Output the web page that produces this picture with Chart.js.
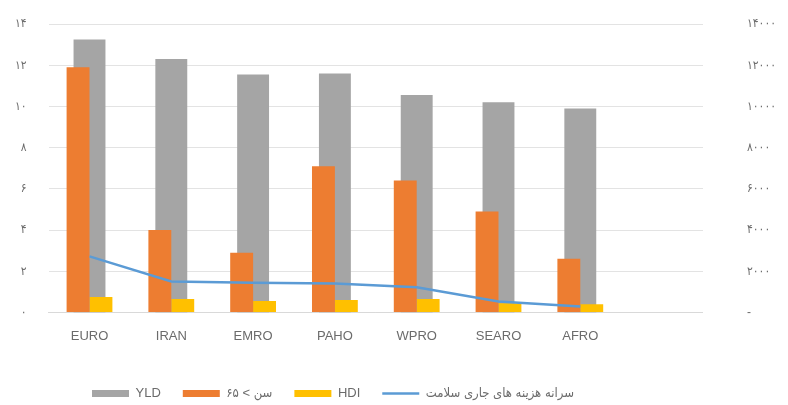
<!DOCTYPE html>
<html>
<head>
<meta charset="utf-8">
<script src="https://cdn.jsdelivr.net/npm/chart.js@4"></script>
<style>
  html, body { margin: 0; padding: 0; background: #fff; }
  #wrap { width: 788px; height: 405px; }
</style>
</head>
<body>
<div id="wrap"><canvas id="myChart" width="788" height="405"></canvas></div>
<script>
const regions = ['EURO', 'IRAN', 'EMRO', 'PAHO', 'WPRO', 'SEARO', 'AFRO', ''];
const yld = [13250, 12300, 11550, 11600, 10550, 10200, 9900];
const over65 = [11.9, 4.0, 2.9, 7.1, 6.4, 4.9, 2.6];
const hdi = [0.75, 0.65, 0.55, 0.6, 0.65, 0.45, 0.4];
const healthSpend = [2720, 1500, 1440, 1400, 1220, 530, 290];
const leftTicks = ['۰', '۲', '۴', '۶', '۸', '۱۰', '۱۲', '۱۴'];
const rightTicks = ['-', '۲۰۰۰', '۴۰۰۰', '۶۰۰۰', '۸۰۰۰', '۱۰۰۰۰', '۱۲۰۰۰', '۱۴۰۰۰'];

Chart.defaults.font.family = "'Liberation Sans', 'DejaVu Sans Condensed', 'DejaVu Sans', sans-serif";
Chart.defaults.color = '#6b6b6b';

// move the legend row left and a bit down, like the original
const legendShift = {
  id: 'legendShift',
  afterLayout(chart) {
    chart.legend.left += 58;
    chart.legend.top += 5;
    chart.legend.bottom += 5;
  }
};

new Chart(document.getElementById('myChart'), {
  type: 'bar',
  data: {
    labels: regions,
    datasets: [
      {
        label: 'YLD',
        data: yld,
        yAxisID: 'y1',
        backgroundColor: '#a5a5a5',
        grouped: false,
        categoryPercentage: 0.39,
        barPercentage: 1,
        order: 3
      },
      {
        label: 'سن > ۶۵',
        data: over65,
        yAxisID: 'y',
        backgroundColor: '#ed7d31',
        categoryPercentage: 0.56,
        barPercentage: 1,
        order: 2
      },
      {
        label: 'HDI',
        data: hdi,
        yAxisID: 'y',
        backgroundColor: '#ffc000',
        categoryPercentage: 0.56,
        barPercentage: 1,
        order: 2
      },
      {
        type: 'line',
        label: 'سرانه هزینه های جاری سلامت',
        data: healthSpend,
        yAxisID: 'y1',
        borderColor: '#5b9bd5',
        backgroundColor: '#5b9bd5',
        borderWidth: 2.5,
        pointRadius: 0,
        tension: 0,
        order: 1
      }
    ]
  },
  options: {
    responsive: false,
    animation: false,
    layout: { padding: { left: 12, right: 9, top: 24, bottom: 0 } },
    plugins: {
      tooltip: { enabled: false },
      legend: {
        position: 'bottom',
        align: 'start',
        labels: {
          usePointStyle: true,
          pointStyleWidth: 37,
          boxHeight: 7,
          padding: 22,
          font: { size: 13 },
          color: '#6b6b6b',
          sort: (a, b) => a.datasetIndex - b.datasetIndex,
          generateLabels(chart) {
            const items = Chart.defaults.plugins.legend.labels.generateLabels(chart);
            items.forEach(it => {
              const ds = chart.data.datasets[it.datasetIndex];
              if (ds.type === 'line') {
                it.pointStyle = 'line';
                it.lineWidth = 2.5;
                it.strokeStyle = ds.borderColor;
              } else {
                it.pointStyle = 'rect';
                it.lineWidth = 0;
              }
            });
            return items;
          }
        }
      }
    },
    scales: {
      x: {
        grid: { display: false, drawTicks: false },
        border: { color: '#d9d9d9' },
        ticks: { padding: 16, font: { size: 13 }, color: '#6b6b6b' }
      },
      y: {
        position: 'left',
        min: 0,
        max: 14,
        ticks: {
          stepSize: 2,
          padding: 3,
          font: { size: 12 },
          color: '#6b6b6b',
          callback: (v, i) => leftTicks[i]
        },
        grid: { color: '#e3e3e3', drawTicks: true, tickLength: 19, tickColor: 'rgba(0,0,0,0)' },
        border: { display: false }
      },
      y1: {
        position: 'right',
        min: 0,
        max: 14000,
        ticks: {
          stepSize: 2000,
          padding: 3,
          font: { size: 12 },
          color: '#6b6b6b',
          callback: (v, i) => rightTicks[i]
        },
        grid: { display: false, drawTicks: true, tickLength: 41 },
        border: { display: false }
      }
    }
  },
  plugins: [legendShift]
});
</script>
</body>
</html>
